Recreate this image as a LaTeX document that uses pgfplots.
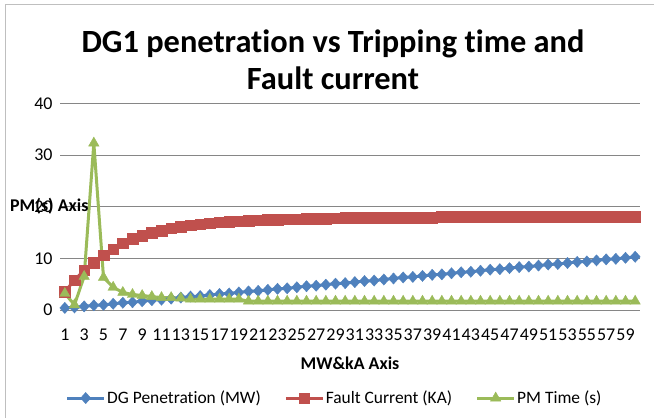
\documentclass[border=0pt]{standalone}
\usepackage{fontspec}
\setmainfont{Carlito}[Ligatures=NoCommon]
\usepackage{pgfplots}
\usepackage{pgfplotstable}
\pgfplotsset{compat=1.18}
\definecolor{dgblue}{HTML}{4F81BD}
\definecolor{fcred}{HTML}{C0504D}
\definecolor{pmgreen}{HTML}{9BBB59}
\definecolor{gridgray}{HTML}{868686}

\pgfplotstableread{
x dg fc pm
1 0.4 3.5 3.2
2 0.5 5.8 1.0
3 0.7 7.7 6.5
4 0.9 9.2 32.3
5 1.0 10.6 6.3
6 1.2 11.8 4.4
7 1.4 12.9 3.4
8 1.5 13.8 3.0
9 1.7 14.4 2.8
10 1.9 15.0 2.6
11 2.0 15.4 2.4
12 2.2 15.8 2.4
13 2.4 16.1 2.3
14 2.6 16.4 2.1
15 2.7 16.6 2.1
16 2.9 16.8 2.1
17 3.1 17.0 2.1
18 3.2 17.1 2.1
19 3.4 17.2 2.1
20 3.6 17.3 1.7
21 3.7 17.4 1.7
22 3.9 17.5 1.7
23 4.1 17.5 1.7
24 4.2 17.6 1.7
25 4.4 17.6 1.7
26 4.6 17.7 1.7
27 4.7 17.7 1.7
28 4.9 17.7 1.7
29 5.1 17.8 1.7
30 5.2 17.9 1.7
31 5.4 17.9 1.7
32 5.6 17.9 1.7
33 5.7 17.9 1.7
34 5.9 17.9 1.7
35 6.1 17.9 1.7
36 6.3 17.9 1.7
37 6.4 17.9 1.7
38 6.6 17.9 1.7
39 6.8 17.9 1.7
40 6.9 18.1 1.7
41 7.1 18.1 1.7
42 7.3 18.1 1.7
43 7.4 18.1 1.7
44 7.6 18.1 1.7
45 7.8 18.1 1.7
46 7.9 18.1 1.7
47 8.1 18.1 1.7
48 8.3 18.1 1.7
49 8.4 18.1 1.7
50 8.6 18.1 1.7
51 8.8 18.1 1.7
52 8.9 18.1 1.7
53 9.1 18.1 1.7
54 9.3 18.1 1.7
55 9.4 18.1 1.7
56 9.6 18.1 1.7
57 9.8 18.1 1.7
58 9.9 18.1 1.7
59 10.1 18.1 1.7
60 10.3 18.1 1.7
}\datatable

\begin{document}
\begin{tikzpicture}
\useasboundingbox (0,0) rectangle (654bp,418bp);
\fill[white] (0,0) rectangle (654bp,418bp);
\draw[gray!50, line width=1bp] (5bp,0) -- (5bp,413bp) -- (654bp,413bp);
\begin{axis}[
  at={(60bp,108bp)}, anchor=south west,
  scale only axis, width=580bp, height=206.7bp,
  xmin=0.5, xmax=60.5, ymin=0, ymax=40,
  xtick={1,3,...,59}, ytick={0,10,20,30,40},
  major tick length=0pt,
  ymajorgrids, grid style={gridgray, line width=0.8bp},
  axis x line*=bottom, axis y line*=left,
  x axis line style={gridgray, line width=0.8bp, -},
  y axis line style={draw=none},
  /pgf/number format/assume math mode=true,
  tick label style={font=\fontsize{18}{18}\selectfont, text=black},
  xticklabel style={anchor=base, yshift=-30bp},
  yticklabel style={anchor=east, xshift=-4bp},
  title={DG1 penetration vs Tripping time and\\Fault current},
  title style={at={(axis description cs:0.5,1)}, anchor=south, inner sep=0pt,
    yshift=7.5bp, xshift=-17bp, align=center,
    font=\fontsize{32.5}{36.7}\selectfont\bfseries},
  xlabel={MW\&kA Axis}, ylabel={PM(s) Axis},
  every axis x label/.style={at={(axis description cs:0.5,0)}, anchor=base,
    yshift=-59bp, font=\fontsize{18}{18}\selectfont\bfseries},
  every axis y label/.style={at={(axis description cs:0,0.5)}, anchor=west,
    xshift=-50bp, inner sep=0pt, font=\fontsize{18}{18}\selectfont\bfseries},
  legend columns=3,
  legend style={at={(axis description cs:0.473,-0.426)}, anchor=center,
    draw=none, fill=none, inner sep=0pt,
    font=\fontsize{17.5}{17.5}\selectfont,
    nodes={inner sep=1.5bp},
    /tikz/every even column/.append style={column sep=22bp}},
  legend image code/.code={\draw[#1, mark repeat=2, mark phase=2]
    plot coordinates {(0bp,0bp) (18.5bp,0bp) (37bp,0bp)};},
]
\addplot[dgblue, line width=3bp, mark=diamond*, mark size=5.6bp,
  mark options={xscale=1.2, solid, fill=dgblue, draw=dgblue, line width=0.4bp}]
  table[x=x, y=dg]{\datatable};
\addlegendentry{DG Penetration (MW)}
\addplot[fcred, line width=3bp, mark=square*, mark size=5.3bp,
  mark options={solid, fill=fcred, draw=fcred, line width=0.4bp}]
  table[x=x, y=fc]{\datatable};
\addlegendentry{Fault Current (KA)}
\addplot[pmgreen, line width=3bp, mark=triangle*, mark size=6bp,
  mark options={solid, fill=pmgreen, draw=pmgreen, line width=0.4bp}]
  table[x=x, y=pm]{\datatable};
\addlegendentry{PM Time (s)}
\end{axis}
\end{tikzpicture}
\end{document}
